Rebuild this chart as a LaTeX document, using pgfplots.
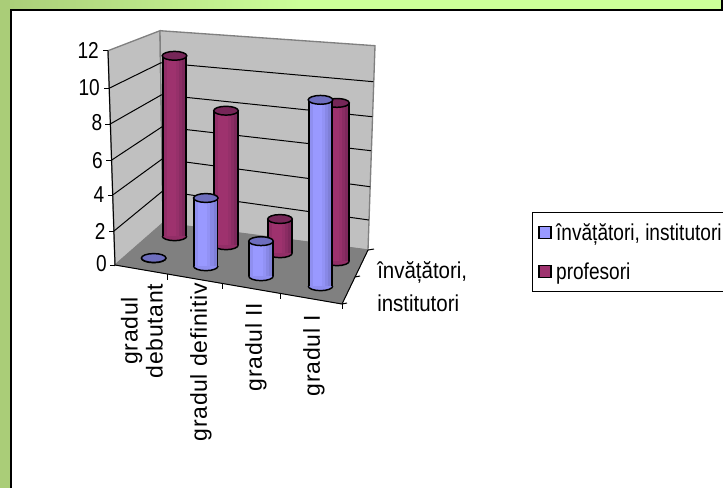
\documentclass[border=0pt]{standalone}
\usepackage{graphicx}
\usepackage{fontspec}
\setmainfont{Liberation Sans}
\newfontfamily\spaced[LetterSpace=3]{Liberation Sans}
\usepackage{pgfplots}
\usepackage{pgfplotstable}
\pgfplotsset{compat=1.18}
\definecolor{wall}{RGB}{192,192,192}
\definecolor{floorc}{RGB}{128,128,128}
\definecolor{blueL}{RGB}{153,153,255}
\definecolor{blueD}{RGB}{120,120,205}
\definecolor{blueT}{RGB}{110,110,190}
\definecolor{purpL}{RGB}{158,50,110}
\definecolor{purpD}{RGB}{118,38,88}
\definecolor{purpT}{RGB}{118,38,88}
\definecolor{bandL}{RGB}{170,205,120}
\definecolor{bandR}{RGB}{204,255,153}

% lower half of a unit circle, filled, the straight side not stroked
\pgfdeclareplotmark{cup}{%
  \pgfpathmoveto{\pgfqpoint{-\pgfplotmarksize}{0pt}}
  \pgfpatharc{180}{360}{\pgfplotmarksize}
  \pgfusepathqfillstroke}

% x,y = position on the floor (picture pixels), v = value
\pgfplotstableread{
x y v
174.5 236 10.6
226 245 7.9
280 253 2.0
337 261 9.3
}\profesori
\pgfplotstableread{
x y v
153.7 258 0
205.8 266 4.0
261 276 2.05
320.5 286 10.95
}\invatatori

\pgfplotsset{
  pixels/.style={
    at={(0,0)},anchor=origin,
    x={(0.75pt,0pt)},y={(0pt,-0.75pt)},z={(0pt,12.75pt)},
    xmin=0,xmax=723,ymin=0,ymax=488,zmin=0,zmax=12,
    hide axis,clip=false},
  column/.style={forget plot,draw=none,mark=none,
    error bars/z dir=minus,error bars/z explicit,error bars/error mark=none,
    error bars/error bar style={solid,#1}}}
\newcommand{\strip}[5]{% table, offset, mix, light, dark
\addplot3[column={line width=2.4pt,color=#4!#3!#5}]
  table[x expr=\thisrow{x}+#2,y=y,z=v,z error=v] {#1};}
\newcommand{\cylinders}[4]{% table, light, dark, top
\addplot3[column={line width=19pt,color=black}]
  table[x=x,y=y,z=v,z error=v] {#1};
\strip{#1}{-9.3}{70}{#2}{#3}
\strip{#1}{-6.2}{100}{#2}{#3}
\strip{#1}{-3.1}{100}{#2}{#3}
\strip{#1}{0}{100}{#2}{#3}
\strip{#1}{3.1}{80}{#2}{#3}
\strip{#1}{6.2}{50}{#2}{#3}
\strip{#1}{9.3}{20}{#2}{#3}
\addplot3[forget plot,only marks,mark=cup,mark size=9.2pt,
  mark options={yscale=0.38,fill=#2!70!#3,draw=black,line width=1.1pt}]
  table[x=x,y=y,z expr=0] {#1};
\addplot3[forget plot,only marks,mark=*,mark size=9.2pt,
  mark options={yscale=0.36,fill=#4,draw=black,line width=1.1pt}]
  table[x=x,y=y,z=v] {#1};}

\newcommand{\tl}[1]{\scalebox{.83}[1]{#1}}
\newcommand{\tm}[1]{\scalebox{.89}[1]{#1}}

\begin{document}
\begin{tikzpicture}
\path[use as bounding box] (0,0) rectangle (542.25pt,-366pt);
\fill[bandR] (0,0) rectangle (542.25pt,-7.5pt);
\shade[left color=bandL,right color=bandR] (0,0) rectangle (225pt,-7.5pt);
\fill[bandL] (0,0) rectangle (7.5pt,-366pt);
\draw[black,line width=1.5pt] (8.2pt,-366pt) -- (8.2pt,-7.6pt) -- (541.5pt,-7.6pt) -- (541.5pt,0pt);
\begin{axis}[pixels]
% walls and floor
\addplot3[forget plot,fill=wall,draw=floorc,line width=1pt] coordinates {(108,50.7,0)(160,30.7,0)(163,223,0)(115,265,0)(108,50.7,0)};
\addplot3[forget plot,fill=wall,draw=floorc,line width=1pt] coordinates {(160,30.7,0)(375,45.7,0)(368,250,0)(163,223,0)(160,30.7,0)};
\addplot3[forget plot,fill=floorc,draw=floorc] coordinates {(115,265,0)(342,304,0)(368,250,0)(163,223,0)(115,265,0)};
% grid lines
\addplot3[forget plot,black,line width=0.75pt] coordinates {(109,88.3,0)(161,62.8,0)(373.3,81.7,0)};
\addplot3[forget plot,black,line width=0.75pt] coordinates {(109.7,124.3,0)(161.5,94.8,0)(372.3,116.7,0)};
\addplot3[forget plot,black,line width=0.75pt] coordinates {(110.7,160.7,0)(162,126.8,0)(371,150.7,0)};
\addplot3[forget plot,black,line width=0.75pt] coordinates {(112.7,195,0)(162.3,158.9,0)(370,186.7,0)};
\addplot3[forget plot,black,line width=0.75pt] coordinates {(114,231,0)(162.7,191,0)(369,220,0)};
% axis lines and ticks
\addplot3[forget plot,black,line width=0.75pt] coordinates {(108,50.7,0)(115,265,0)(342,304,0)(368,250,0)};
\addplot3[forget plot,black,line width=0.75pt] coordinates {(103,50.7,0)(108,50.7,0)};
\addplot3[forget plot,black,line width=0.75pt] coordinates {(104,88.3,0)(109,88.3,0)};
\addplot3[forget plot,black,line width=0.75pt] coordinates {(105,124.3,0)(110,124.3,0)};
\addplot3[forget plot,black,line width=0.75pt] coordinates {(106,160.7,0)(111,160.7,0)};
\addplot3[forget plot,black,line width=0.75pt] coordinates {(108,195,0)(113,195,0)};
\addplot3[forget plot,black,line width=0.75pt] coordinates {(109,231,0)(114,231,0)};
\addplot3[forget plot,black,line width=0.75pt] coordinates {(110,265,0)(115,265,0)};
\addplot3[forget plot,black,line width=0.75pt] coordinates {(167.7,274,0)(167.7,280,0)};
\addplot3[forget plot,black,line width=0.75pt] coordinates {(222.7,283.5,0)(222.7,289,0)};
\addplot3[forget plot,black,line width=0.75pt] coordinates {(280.7,293.5,0)(280.7,299,0)};
\addplot3[forget plot,black,line width=0.75pt] coordinates {(342,304,0)(342,309,0)};
\addplot3[forget plot,black,line width=0.75pt] coordinates {(342,304,0)(347,303,0)};
\addplot3[forget plot,black,line width=0.75pt] coordinates {(355,277,0)(360,276,0)};
\addplot3[forget plot,black,line width=0.75pt] coordinates {(368,250,0)(374,249,0)};
% back series
\cylinders{\profesori}{purpL}{purpD}{purpT}
% tick labels
\tikzset{tk/.style={inner sep=0pt,font=\fontsize{17.25}{18}\selectfont,anchor=east}}
\node[tk] at (axis cs:99,50,0) {\tl{12}};
\node[tk] at (axis cs:100,88,0) {\tl{10}};
\node[tk] at (axis cs:102.5,123,0) {\tl{8}};
\node[tk] at (axis cs:103,160.7,0) {\tl{6}};
\node[tk] at (axis cs:104.5,195,0) {\tl{4}};
\node[tk] at (axis cs:105.7,231,0) {\tl{2}};
\node[tk] at (axis cs:107,264,0) {\tl{0}};
\node[font=\fontsize{17.25}{18.75}\selectfont\spaced,rotate=90,align=center,inner sep=0pt] at (axis cs:142,331,0) {gradul\\debutant};
\node[font=\fontsize{17.25}{22}\selectfont\spaced,rotate=90,anchor=east,inner sep=0pt] at (axis cs:201,283,0) {gradul definitiv};
\node[font=\fontsize{17.25}{22}\selectfont\spaced,rotate=90,anchor=east,inner sep=0pt] at (axis cs:256,303,0) {gradul II};
\node[font=\fontsize{17.25}{22}\selectfont\spaced,rotate=90,anchor=east,inner sep=0pt] at (axis cs:314,315,0) {gradul I};
\node[font=\fontsize{17.25}{24.75}\selectfont,align=left,anchor=north west,inner sep=0pt] at (axis cs:377,261.5,0) {\tm{învățători,}\\\tm{institutori}};
\end{axis}
% front series in its own axis: marks of one axis come after all its lines
\begin{axis}[pixels,
  legend style={at={(axis cs:532,212,0)},anchor=north west,draw=black,
    line width=0.6pt,inner xsep=4.5pt,inner ysep=6pt,row sep=11.3pt,fill=white},
  legend cell align=left,
]
\cylinders{\invatatori}{blueL}{blueD}{blueT}
\addlegendimage{legend image code/.code={\draw[draw=black,fill=blueL,line width=1pt] (0pt,-4.5pt) rectangle (9pt,4.5pt); \path (10.5pt,0pt);}}
\addlegendentry{\fontsize{17.25}{18}\selectfont\tl{învățători, institutori}}
\addlegendimage{legend image code/.code={\draw[draw=black,fill=purpL,line width=1pt] (0pt,-4.5pt) rectangle (9pt,4.5pt); \path (10.5pt,0pt);}}
\addlegendentry{\fontsize{17.25}{18}\selectfont\tl{profesori}}
\end{axis}
\end{tikzpicture}
\end{document}
